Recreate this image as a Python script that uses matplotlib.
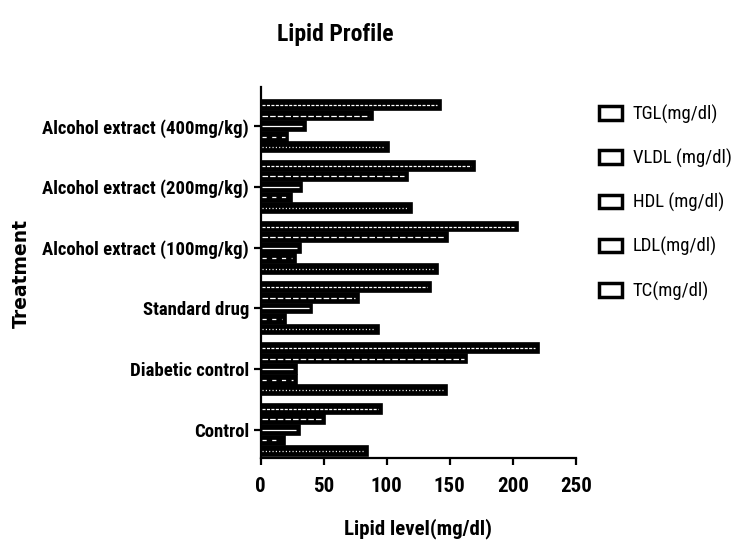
import numpy as np
import matplotlib
matplotlib.use("Agg")
import matplotlib.pyplot as plt
from matplotlib.patches import Patch

plt.rcParams['font.family'] = ['Roboto Condensed', 'Liberation Sans Narrow', 'DejaVu Sans']
plt.rcParams['lines.scale_dashes'] = False

# groups from bottom to top
groups = ["Control", "Diabetic control", "Standard drug",
          "Alcohol extract (100mg/kg)", "Alcohol extract (200mg/kg)",
          "Alcohol extract (400mg/kg)"]
series = ["TGL(mg/dl)", "VLDL (mg/dl)", "HDL (mg/dl)", "LDL(mg/dl)", "TC(mg/dl)"]

tgl  = [96, 221, 135, 204, 170, 143]
vldl = [51, 164, 78, 149, 117, 89]
hdl  = [31, 29, 41, 32, 33, 36]
ldl  = [19, 29, 20, 28, 25, 22]
tc   = [85, 148, 94, 141, 120, 102]
values = [tgl, vldl, hdl, ldl, tc]

# white inner stroke of each series
inner = [(0, (2.2, 1.0)), (0, (4, 1.5)), '-', (0, (3, 4)), (0, (0.8, 1.6))]

fig = plt.figure(figsize=(7.35, 5.43), dpi=100)
ax = fig.add_axes([0.3547, 0.1565, 0.4286, 0.6833])

y = np.arange(len(groups))
step = 0.1736
for i, vals in enumerate(values):
    pos = y + (2 - i) * step
    ax.barh(pos, vals, height=0.16, color='black', edgecolor='black', lw=1.2, zorder=2)
    for p, v in zip(pos, vals):
        ax.plot([0.8, v - 3], [p, p], color='white', lw=0.9, ls=inner[i],
                solid_capstyle='butt', dash_capstyle='butt', zorder=3)

ax.set_xlim(0, 250)
ax.set_ylim(-0.463, 5.645)
ax.set_xticks([0, 50, 100, 150, 200, 250])
ax.set_yticks(y)
ax.set_yticklabels(groups)
for s in ['top', 'right']:
    ax.spines[s].set_visible(False)
for s in ['left', 'bottom']:
    ax.spines[s].set_linewidth(1.6)
ax.tick_params(axis='both', width=1.6, length=5)
ax.tick_params(axis='y', labelsize=13.5)
ax.tick_params(axis='x', labelsize=15, pad=9)
for t in ax.get_xticklabels() + ax.get_yticklabels():
    t.set_fontweight('bold')

ax.set_xlabel("Lipid level(mg/dl)", fontsize=15, fontweight='bold', labelpad=16)
fig.text(0.029, 0.497, "Treatment", rotation=90, fontsize=13.5, fontweight='bold',
         family='DejaVu Sans', ha='center', va='center')
fig.text(0.456, 0.937, "Lipid Profile", fontsize=17, fontweight='bold',
         ha='center', va='center')

handles = [Patch(facecolor='white', edgecolor='black', lw=2.5) for _ in series]
fig.legend(handles, series, loc='upper left', bbox_to_anchor=(0.792, 0.838),
           frameon=False, fontsize=13.5, labelspacing=1.33, handlelength=1.25,
           handleheight=0.75, handletextpad=0.55)

fig.savefig("out.png", dpi=100)
